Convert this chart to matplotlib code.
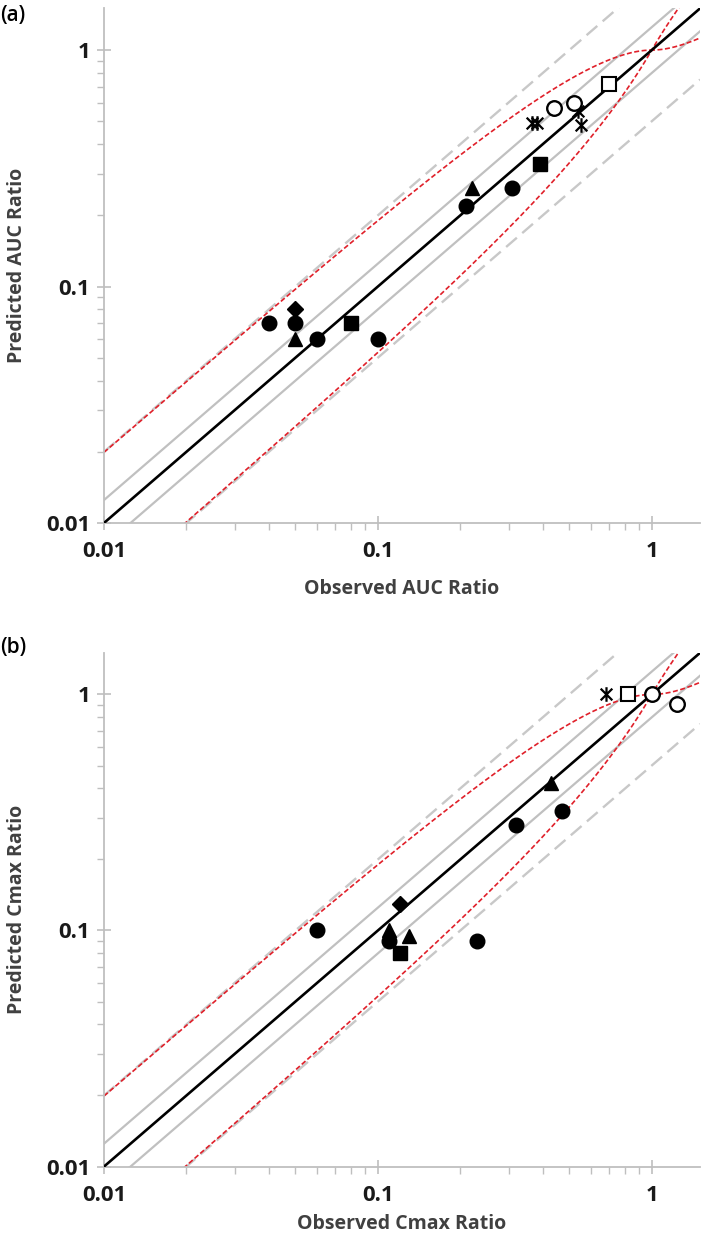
import numpy as np
import matplotlib
matplotlib.use("Agg")
import matplotlib.pyplot as plt
from matplotlib.path import Path
from matplotlib.ticker import LogLocator, FixedLocator, NullFormatter

plt.rcParams["font.family"] = ["Open Sans", "DejaVu Sans"]

# ---- panel (a): AUC ratio ----
a_circle_x = [0.04, 0.05, 0.06, 0.10, 0.21, 0.31]
a_circle_y = [0.07, 0.07, 0.06, 0.06, 0.22, 0.26]
a_tri_x = [0.05, 0.22]
a_tri_y = [0.06, 0.26]
a_diam_x = [0.05]
a_diam_y = [0.08]
a_sq_x = [0.08, 0.39]
a_sq_y = [0.07, 0.33]
a_star_x = [0.365, 0.38, 0.54, 0.55]
a_star_y = [0.49, 0.49, 0.55, 0.48]
a_ocircle_x = [0.44, 0.52]
a_ocircle_y = [0.57, 0.60]
a_osq_x = [0.70]
a_osq_y = [0.72]

# ---- panel (b): Cmax ratio ----
b_circle_x = [0.06, 0.11, 0.23, 0.32, 0.47]
b_circle_y = [0.10, 0.09, 0.09, 0.28, 0.32]
b_tri_x = [0.11, 0.13, 0.43]
b_tri_y = [0.10, 0.095, 0.42]
b_diam_x = [0.12]
b_diam_y = [0.13]
b_sq_x = [0.12]
b_sq_y = [0.08]
b_star_x = [0.68]
b_star_y = [1.0]
b_ocircle_x = [1.0, 1.24]
b_ocircle_y = [1.0, 0.91]
b_osq_x = [0.82]
b_osq_y = [1.0]

tick_vals = [0.01, 0.1, 1]
tick_labels = ["0.01", "0.1", "1"]

# asterisk like the excel marker: X with a vertical bar
star = Path([(-0.8, -0.8), (0.8, 0.8), (-0.8, 0.8), (0.8, -0.8), (0, -1.0), (0, 1.0)],
            [Path.MOVETO, Path.LINETO, Path.MOVETO, Path.LINETO, Path.MOVETO, Path.LINETO])


def guest_limits(r, delta=1.0):
    # Guest et al. acceptance limits for DDI ratios
    rr = np.where(r >= 1, r, 1 / r)
    lim = (delta + 2 * (rr - 1)) / rr
    return r * lim, r / lim


def draw_panel(ax, pts, xlabel, ylabel, xpad):
    xs = np.logspace(-2, np.log10(1.5), 400)
    lo, hi = 0.01, 1.5
    ax.plot(xs, 2 * xs, color="#c8c8c8", lw=1.7, ls=(0, (6, 3)), zorder=1)
    ax.plot(xs, xs / 2, color="#c8c8c8", lw=1.7, ls=(0, (6, 3)), zorder=1)
    ax.plot(xs, 1.25 * xs, color="#c0c0c0", lw=1.6, zorder=1)
    ax.plot(xs, xs / 1.25, color="#c0c0c0", lw=1.6, zorder=1)
    up, dn = guest_limits(xs)
    ax.plot(xs, up, color="#e0202a", lw=1.2, ls=(0, (3, 1.5)), zorder=2)
    ax.plot(xs, dn, color="#e0202a", lw=1.2, ls=(0, (3, 1.5)), zorder=2)
    ax.plot(xs, xs, color="black", lw=1.9, zorder=3)

    (cx, cy), (tx, ty), (dx, dy), (sx, sy), (stx, sty), (ocx, ocy), (osx, osy) = pts
    kw = dict(ls="none", zorder=5, clip_on=False)
    ax.plot(cx, cy, marker="o", ms=10.5, color="black", **kw)
    ax.plot(tx, ty, marker="^", ms=10.5, color="black", **kw)
    ax.plot(dx, dy, marker="D", ms=8, color="black", **kw)
    ax.plot(sx, sy, marker="s", ms=10, color="black", **kw)
    ax.plot(stx, sty, marker=star, ms=10.5, mfc="none", mec="black", mew=1.6, **kw)
    ax.plot(ocx, ocy, marker="o", ms=10.5, mfc="white", mec="black", mew=1.7, **kw)
    ax.plot(osx, osy, marker="s", ms=10.5, mfc="white", mec="black", mew=1.5, **kw)

    ax.set_xscale("log")
    ax.set_yscale("log")
    ax.set_xlim(lo, hi)
    ax.set_ylim(lo, hi)
    for s in ("top", "right"):
        ax.spines[s].set_visible(False)
    for s in ("left", "bottom"):
        ax.spines[s].set_color("#bfbfbf")
        ax.spines[s].set_linewidth(1.3)

    for axis in (ax.xaxis, ax.yaxis):
        axis.set_major_locator(FixedLocator(tick_vals))
        axis.set_minor_locator(LogLocator(base=10, subs=np.arange(2, 10)))
        axis.set_minor_formatter(NullFormatter())
    ax.set_xticklabels(tick_labels)
    ax.set_yticklabels(tick_labels)
    ax.tick_params(which="major", direction="inout", length=10, width=1.2, color="#bfbfbf",
                   labelsize=16, labelcolor="#1a1a1a")
    ax.tick_params(which="minor", direction="out", length=5, width=1.0, color="#bfbfbf")
    ax.tick_params(axis="x", which="major", pad=8)
    ax.tick_params(axis="y", which="major", pad=5)
    for lab in ax.get_xticklabels() + ax.get_yticklabels():
        lab.set_fontweight("bold")

    ax.set_xlabel(xlabel, fontsize=14, fontweight="bold", color="#404040", labelpad=xpad)
    ax.set_ylabel(ylabel, fontsize=14, fontweight="bold", color="#404040", labelpad=8)


fig = plt.figure(figsize=(7.09, 12.41), dpi=100)
ax1 = fig.add_axes([0.1467, 0.5786, 0.8406, 0.4146])
ax2 = fig.add_axes([0.1467, 0.0600, 0.8406, 0.4139])

draw_panel(ax1, [(a_circle_x, a_circle_y), (a_tri_x, a_tri_y), (a_diam_x, a_diam_y),
                 (a_sq_x, a_sq_y), (a_star_x, a_star_y), (a_ocircle_x, a_ocircle_y),
                 (a_osq_x, a_osq_y)],
           "Observed AUC Ratio", "Predicted AUC Ratio", 12)
draw_panel(ax2, [(b_circle_x, b_circle_y), (b_tri_x, b_tri_y), (b_diam_x, b_diam_y),
                 (b_sq_x, b_sq_y), (b_star_x, b_star_y), (b_ocircle_x, b_ocircle_y),
                 (b_osq_x, b_osq_y)],
           "Observed Cmax Ratio", "Predicted Cmax Ratio", 6)

ax1.yaxis.set_label_coords(-0.13, 0.5)
ax2.yaxis.set_label_coords(-0.13, 0.5)

fig.text(0.0, 1 - 15 / 1241, "(a)", fontsize=15, fontweight="semibold", ha="left", va="center")
fig.text(0.0, 1 - 647 / 1241, "(b)", fontsize=15, fontweight="semibold", ha="left", va="center")

fig.savefig("out.png", dpi=100)
